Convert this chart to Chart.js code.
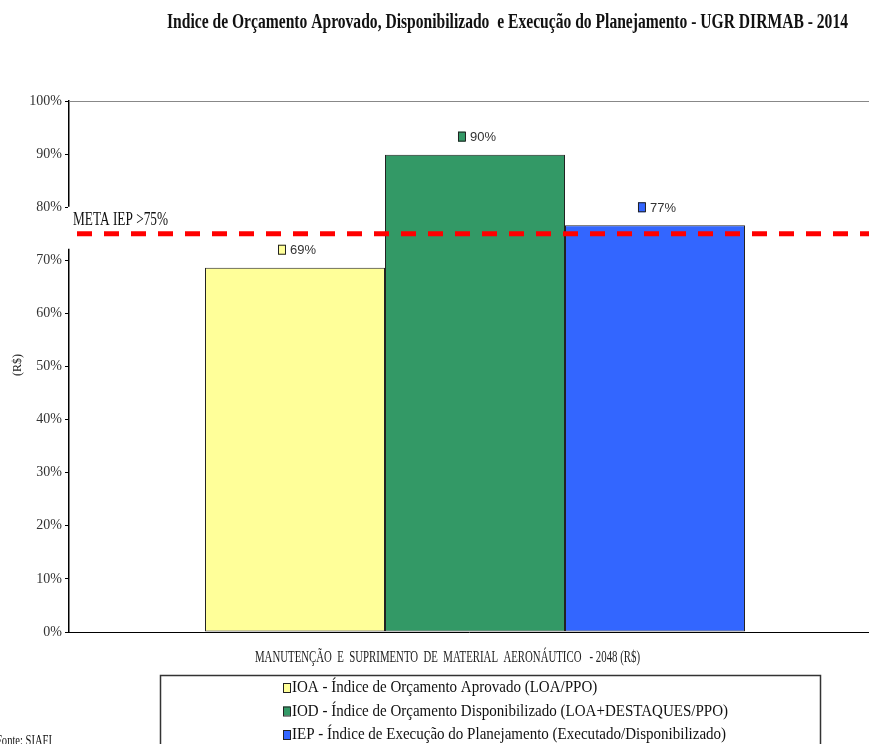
<!DOCTYPE html>
<html>
<head>
<meta charset="utf-8">
<script src="https://cdn.jsdelivr.net/npm/chart.js@4/dist/chart.umd.min.js"></script>
<style>
  body { margin: 0; background: #fff; }
  #wrap { width: 869px; height: 744px; }
</style>
</head>
<body>
<div id="wrap"><canvas id="chart" width="869" height="744"></canvas></div>
<script>
// chart data
const categories = ['MANUTENÇÃO  E  SUPRIMENTO  DE  MATERIAL  AERONÁUTICO   - 2048 (R$)'];
const seriesNames = [
    'IOA - Índice de Orçamento Aprovado (LOA/PPO)',
    'IOD - Índice de Orçamento Disponibilizado (LOA+DESTAQUES/PPO)',
    'IEP - Índice de Execução do Planejamento (Executado/Disponibilizado)'
];
const ioaValues = [0.686];
const iodValues = [0.899];
const iepValues = [0.766];
const metaIep = 0.75;
const metaLabel = 'META IEP >75%';
const chartTitle = 'Indice de Orçamento Aprovado, Disponibilizado  e Execução do Planejamento - UGR DIRMAB - 2014';
const yAxisTitle = '(R$)';
const sourceNote = 'Fonte: SIAFI';

const serifFont = '"Liberation Serif", "Times New Roman", serif';
const seriesColors = ['#FFFF99', '#339966', '#3366FF'];

// draw text squeezed into a given width (the original uses a narrow font)
function drawFit(ctx, text, x, y, width, font, align) {
    ctx.save();
    ctx.font = font;
    const w = ctx.measureText(text).width;
    const sx = width / w;
    ctx.translate(x, y);
    ctx.scale(sx, 1);
    ctx.textAlign = align || 'left';
    ctx.textBaseline = 'middle';
    ctx.fillText(text, 0, 0);
    ctx.restore();
}

const extrasPlugin = {
    id: 'extras',
    afterLayout(chart) {
        // the original plot runs a little past the right edge of the picture
        const x = chart.scales.x;
        x.right += 12;
        x.width += 12;
        x.configure();
    },
    afterDraw(chart) {
        const ctx = chart.ctx;
        const area = chart.chartArea;
        const yScale = chart.scales.y;

        // top border line at 100%
        ctx.save();
        ctx.strokeStyle = '#888';
        ctx.lineWidth = 1;
        ctx.beginPath();
        ctx.moveTo(area.left, yScale.getPixelForValue(1) + 0.5);
        ctx.lineTo(chart.width, yScale.getPixelForValue(1) + 0.5);
        ctx.stroke();
        ctx.restore();

        // value labels with colour markers
        chart.data.datasets.forEach((ds, i) => {
            const meta = chart.getDatasetMeta(i);
            meta.data.forEach((bar, j) => {
                const text = Math.round(ds.data[j] * 100) + '%';
                ctx.save();
                ctx.font = '13px "Liberation Sans", Arial, sans-serif';
                const tw = ctx.measureText(text).width;
                const total = 8 + 4 + tw;
                const x0 = bar.x - total / 2 + 2;
                const yc = bar.y - 18;
                ctx.fillStyle = ds.backgroundColor;
                ctx.strokeStyle = '#222';
                ctx.lineWidth = 1;
                ctx.fillRect(x0, yc - 5, 7, 10);
                ctx.strokeRect(x0 + 0.5, yc - 4.5, 7, 9);
                ctx.fillStyle = '#333';
                ctx.textBaseline = 'middle';
                ctx.fillText(text, x0 + 12, yc + 1);
                ctx.restore();
            });
        });

        // meta line and its label
        const yMeta = yScale.getPixelForValue(metaIep);
        ctx.save();
        ctx.fillStyle = '#fff';
        ctx.fillRect(area.left - 1, yMeta - 27, 100, 42);
        ctx.fillStyle = '#111';
        drawFit(ctx, metaLabel, 73, yMeta - 13, 95, '18px ' + serifFont, 'left');
        ctx.strokeStyle = '#FF0000';
        ctx.lineWidth = 5;
        ctx.setLineDash([15, 12]);
        ctx.beginPath();
        ctx.moveTo(area.left + 8, yMeta);
        ctx.lineTo(chart.width, yMeta);
        ctx.stroke();
        ctx.restore();

        // title
        ctx.save();
        ctx.fillStyle = '#111';
        drawFit(ctx, chartTitle, 167, 23, 681, 'bold 20px ' + serifFont, 'left');

        // x axis title
        ctx.fillStyle = '#222';
        drawFit(ctx, categories[0], 255, 658, 385, '17px ' + serifFont, 'left');

        // y axis title
        ctx.save();
        ctx.translate(18, 365);
        ctx.rotate(-Math.PI / 2);
        ctx.font = '12px ' + serifFont;
        ctx.textAlign = 'center';
        ctx.textBaseline = 'middle';
        ctx.fillText(yAxisTitle, 0, 0);
        ctx.restore();

        // legend box
        ctx.strokeStyle = '#333';
        ctx.lineWidth = 1.5;
        ctx.strokeRect(160.5, 675.5, 660, 90);
        ctx.font = '17px ' + serifFont;
        const sx = 436 / ctx.measureText(seriesNames[1]).width;
        chart.data.datasets.forEach((ds, i) => {
            const yl = 688 + i * 23.5;
            ctx.fillStyle = ds.backgroundColor;
            ctx.fillRect(283, yl - 5, 7, 9);
            ctx.strokeStyle = '#222';
            ctx.lineWidth = 1;
            ctx.strokeRect(283.5, yl - 4.5, 7, 9);
            ctx.save();
            ctx.fillStyle = '#111';
            ctx.translate(292, yl);
            ctx.scale(sx, 1);
            ctx.textBaseline = 'middle';
            ctx.fillText(ds.label, 0, 0);
            ctx.restore();
        });

        // source note
        ctx.fillStyle = '#111';
        drawFit(ctx, sourceNote, -4, 741, 56, '15px ' + serifFont, 'left');
        ctx.restore();
    }
};

const ctx = document.getElementById('chart').getContext('2d');
window.myChart = new Chart(ctx, {
    type: 'bar',
    data: {
        labels: categories,
        datasets: [
            { label: seriesNames[0], data: ioaValues, backgroundColor: seriesColors[0] },
            { label: seriesNames[1], data: iodValues, backgroundColor: seriesColors[1] },
            { label: seriesNames[2], data: iepValues, backgroundColor: seriesColors[2] }
        ]
    },
    options: {
        responsive: false,
        animation: false,
        devicePixelRatio: 1,
        layout: { padding: { top: 101, right: 0, left: 0, bottom: 0 } },
        datasets: {
            bar: {
                categoryPercentage: 0.665,
                barPercentage: 1,
                borderColor: '#222',
                borderWidth: 1,
                borderSkipped: false
            }
        },
        plugins: {
            legend: { display: false },
            title: { display: false },
            tooltip: { enabled: false }
        },
        scales: {
            x: {
                ticks: { display: false },
                grid: { display: false },
                border: { color: '#000', width: 1 },
                afterFit(scale) { scale.height = 112; }
            },
            y: {
                min: 0,
                max: 1,
                ticks: {
                    stepSize: 0.1,
                    padding: 3,
                    color: '#333',
                    font: { family: serifFont, size: 14 },
                    callback: v => Math.round(v * 100) + '%'
                },
                grid: { drawOnChartArea: false, tickLength: 4, color: '#000' },
                border: { color: '#000', width: 1.5 },
                afterFit(scale) { scale.width = 69; }
            }
        }
    },
    plugins: [extrasPlugin]
});
</script>
</body>
</html>
